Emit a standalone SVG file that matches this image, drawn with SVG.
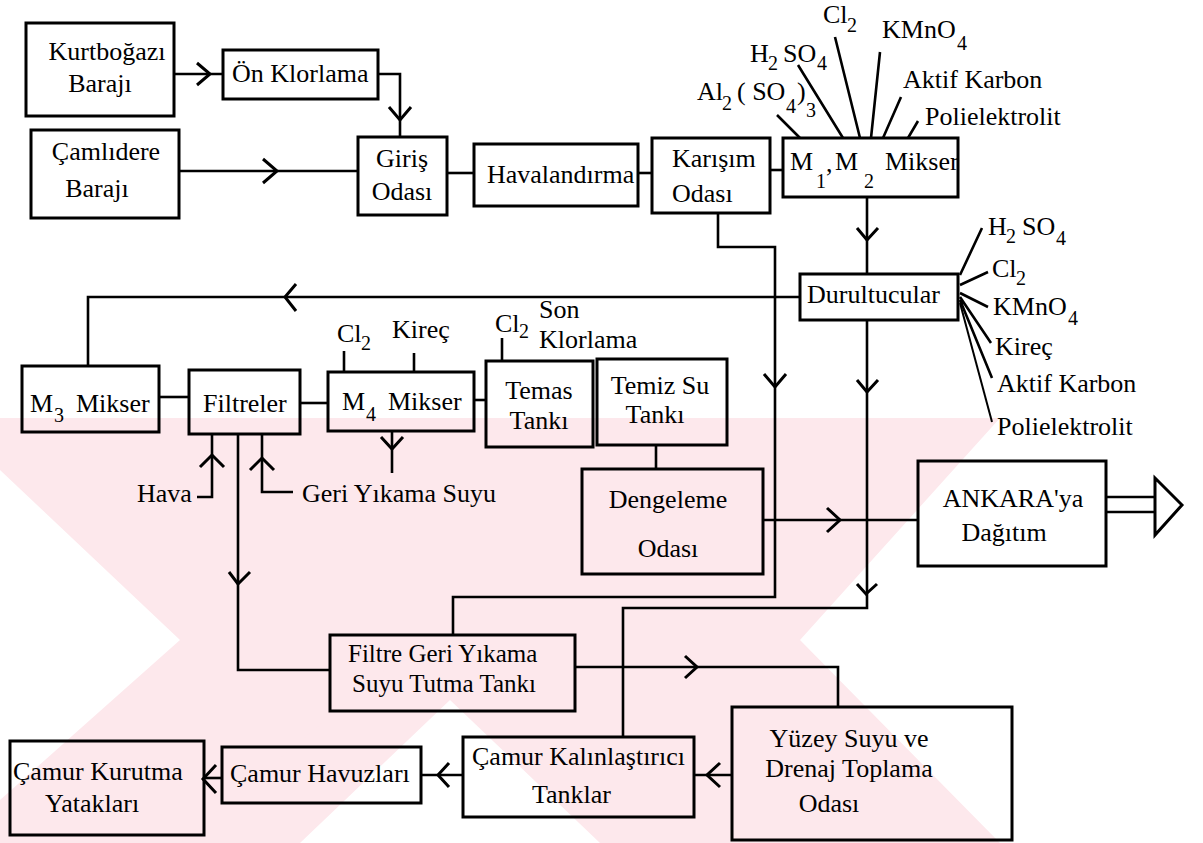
<svg xmlns="http://www.w3.org/2000/svg" width="1203" height="843" viewBox="0 0 1203 843">
<style>
text{font-family:'Liberation Serif','Times New Roman',serif;font-size:26px;fill:#000}
.sub{font-size:20px}
.box{fill:none;stroke:#000;stroke-width:3}
.ln{fill:none;stroke:#000;stroke-width:2.6}
.thin{fill:none;stroke:#000;stroke-width:2}
.chev{fill:none;stroke:#000;stroke-width:3}
.wm{fill:#fde8ec}
.mid{text-anchor:middle}
</style>
<rect width="1203" height="843" fill="#fff"/>
<g id="watermark">
<polygon class="wm" points="0,418 250,418 470,640 250,843 0,843 0,800 180,640 0,470"/>
<polygon class="wm" points="420,418 1000,418 800,640 1000,843 600,843 450,700 300,843 180,843 420,640 230,418"/>
</g>
<g id="connectors">
<path class="ln" d="M174,74 H223"/><path class="chev" d="M197,63 L210,74 L197,85"/>
<path class="ln" d="M378,74 H400 V137"/><path class="chev" d="M389,107 L400,120 L411,107"/>
<path class="ln" d="M179,171 H358"/><path class="chev" d="M263,159 L277,171 L263,183"/>
<path class="ln" d="M447,173 H474"/>
<path class="ln" d="M638,173 H652"/>
<path class="ln" d="M770,170 H783"/>
<path class="ln" d="M867,197 V274"/><path class="chev" d="M857,228 L867,240 L878,228"/>
<path class="ln" d="M800,297 H88 V366"/><path class="chev" d="M296,284 L285,297 L296,311"/>
<path class="ln" d="M159,397 H189"/>
<path class="ln" d="M300,403 H328"/>
<path class="ln" d="M474,400 H486"/>
<path class="ln" d="M344,351 V372"/>
<path class="ln" d="M414,353 V372"/>
<path class="ln" d="M502,338 V361"/>
<path class="ln" d="M392,431 V473"/><path class="chev" d="M381,437 L392,449 L403,437"/>
<path class="ln" d="M197,497 H212 V434"/><path class="chev" d="M200,467 L212,455 L224,467"/>
<path class="ln" d="M293,492 H262 V434"/><path class="chev" d="M250,470 L262,458 L274,470"/>
<path class="ln" d="M238,434 V670 H330"/><path class="chev" d="M229,572 L238,584 L250,572"/>
<path class="ln" d="M718,213 V247 H775 V597 H453 V635"/><path class="chev" d="M764,374 L775,387 L786,374"/>
<path class="ln" d="M867,320 V608 H623 V737"/><path class="chev" d="M857,380 L867,392 L878,380"/><path class="chev" d="M857,584 L866,594 L877,584"/>
<path class="ln" d="M656,445 V469"/>
<path class="ln" d="M763,520 H918"/><path class="chev" d="M827,508 L840,520 L827,532"/>
<path class="ln" d="M1106,497 H1155 M1106,512 H1155"/>
<polygon points="1155,478 1182,505 1155,535" fill="#fff" stroke="#000" stroke-width="3"/>
<path class="ln" d="M575,667 H838 V707"/><path class="chev" d="M685,656 L697,667 L685,678"/>
<path class="ln" d="M732,775 H694"/><path class="chev" d="M720,763 L707,775 L720,787"/>
<path class="ln" d="M463,775 H421"/><path class="chev" d="M449,763 L438,775 L449,787"/>
<path class="ln" d="M222,778 H204"/><path class="chev" d="M216,765 L203,779 L216,793"/>
<path class="ln" d="M777,115 L800,138 M798,65 L843,138 M835,37 L860,138 M880,52 L871,138 M901,97 L883,138 M918,121 L908,138"/>
<path class="ln" d="M960,275 L982,228 M960,285 L988,272 M960,293 L988,307 M960,297 L991,343 M960,300 L992,378"/>
<path class="thin" d="M960,303 L992,422"/>
</g>
<g id="kurtbogazi"><rect class="box" x="26" y="23" width="148" height="93"/><text x="107" y="60" class="mid">Kurtboğazı</text><text x="100" y="92" class="mid">Barajı</text></g>
<g id="onklorlama"><rect class="box" x="223" y="50" width="155" height="49"/><text x="232" y="82">Ön Klorlama</text></g>
<g id="camlidere"><rect class="box" x="31" y="130" width="148" height="88"/><text x="106" y="160" class="mid">Çamlıdere</text><text x="97" y="197" class="mid">Barajı</text></g>
<g id="giris"><rect class="box" x="358" y="137" width="89" height="78"/><text x="402" y="167" class="mid">Giriş</text><text x="402" y="200" class="mid">Odası</text></g>
<g id="havalandirma"><rect class="box" x="474" y="144" width="164" height="62"/><text x="487" y="183">Havalandırma</text></g>
<g id="karisim"><rect class="box" x="652" y="138" width="118" height="75"/><text x="672" y="167">Karışım</text><text x="672" y="202">Odası</text></g>
<g id="m12mikser"><rect class="box" x="783" y="138" width="175" height="59"/><text x="790" y="170">M</text><text x="816" y="188" class="sub">1</text><text x="826" y="172">,</text><text x="835" y="170">M</text><text x="864" y="188" class="sub">2</text><text x="885" y="170">Mikser</text></g>
<g id="durultucular"><rect class="box" x="800" y="274" width="158" height="46"/><text x="807" y="303">Durultucular</text></g>
<g id="m3mikser"><rect class="box" x="22" y="366" width="137" height="66"/><text x="30" y="412">M</text><text x="54" y="422" class="sub">3</text><text x="76" y="412">Mikser</text></g>
<g id="filtreler"><rect class="box" x="189" y="370" width="111" height="64"/><text x="203" y="412">Filtreler</text></g>
<g id="m4mikser"><rect class="box" x="328" y="372" width="146" height="59"/><text x="342" y="410">M</text><text x="366" y="421" class="sub">4</text><text x="388" y="410">Mikser</text></g>
<g id="temas"><rect class="box" x="486" y="361" width="107" height="86"/><text x="539" y="399" class="mid">Temas</text><text x="539" y="429" class="mid">Tankı</text></g>
<g id="temizsu"><rect class="box" x="597" y="359" width="130" height="86"/><text x="660" y="394" class="mid">Temiz Su</text><text x="655" y="423" class="mid">Tankı</text></g>
<g id="dengeleme"><rect class="box" x="582" y="469" width="181" height="105"/><text x="668" y="508" class="mid">Dengeleme</text><text x="668" y="557" class="mid">Odası</text></g>
<g id="ankara"><rect class="box" x="918" y="461" width="188" height="105"/><text x="1013" y="507" class="mid">ANKARA'ya</text><text x="1004" y="541" class="mid">Dağıtım</text></g>
<g id="filtregeri"><rect class="box" x="330" y="635" width="245" height="76"/><text x="348" y="662" style="font-size:25px">Filtre Geri Yıkama</text><text x="352" y="692" style="font-size:25px">Suyu Tutma Tankı</text></g>
<g id="yuzey"><rect class="box" x="732" y="707" width="280" height="133"/><text x="849" y="747" class="mid">Yüzey Suyu ve</text><text x="849" y="777" class="mid">Drenaj Toplama</text><text x="829" y="812" class="mid">Odası</text></g>
<g id="kalinlastirici"><rect class="box" x="463" y="737" width="231" height="80"/><text x="472" y="765">Çamur Kalınlaştırıcı</text><text x="532" y="803">Tanklar</text></g>
<g id="havuzlari"><rect class="box" x="222" y="747" width="199" height="56"/><text x="230" y="782">Çamur Havuzları</text></g>
<g id="kurutma"><rect class="box" x="10" y="741" width="194" height="94"/><text x="13" y="780">Çamur Kurutma</text><text x="45" y="812">Yatakları</text></g>
<g id="labels">
<text x="697" y="100">Al</text><text x="722" y="110" class="sub">2</text><text x="737" y="100">( SO</text><text x="786" y="113" class="sub">4</text><text x="797" y="100">)</text><text x="806" y="117" class="sub">3</text>
<text x="750" y="62">H</text><text x="768" y="70" class="sub">2</text><text x="783" y="62">SO</text><text x="817" y="70" class="sub">4</text>
<text x="823" y="23">Cl</text><text x="847" y="32" class="sub">2</text>
<text x="882" y="38">KMnO</text><text x="957" y="50" class="sub">4</text>
<text x="903" y="88">Aktif Karbon</text>
<text x="925" y="125">Polielektrolit</text>
<text x="988" y="235">H</text><text x="1006" y="243" class="sub">2</text><text x="1022" y="235">SO</text><text x="1056" y="245" class="sub">4</text>
<text x="992" y="277">Cl</text><text x="1016" y="285" class="sub">2</text>
<text x="993" y="315">KMnO</text><text x="1068" y="325" class="sub">4</text>
<text x="995" y="355">Kireç</text>
<text x="997" y="392">Aktif Karbon</text>
<text x="997" y="435">Polielektrolit</text>
<text x="337" y="342">Cl</text><text x="361" y="350" class="sub">2</text>
<text x="392" y="338">Kireç</text>
<text x="495" y="332">Cl</text><text x="519" y="338" class="sub">2</text>
<text x="539" y="318">Son</text><text x="539" y="348">Klorlama</text>
<text x="137" y="502">Hava</text>
<text x="302" y="502">Geri Yıkama Suyu</text>
</g>
</svg>
